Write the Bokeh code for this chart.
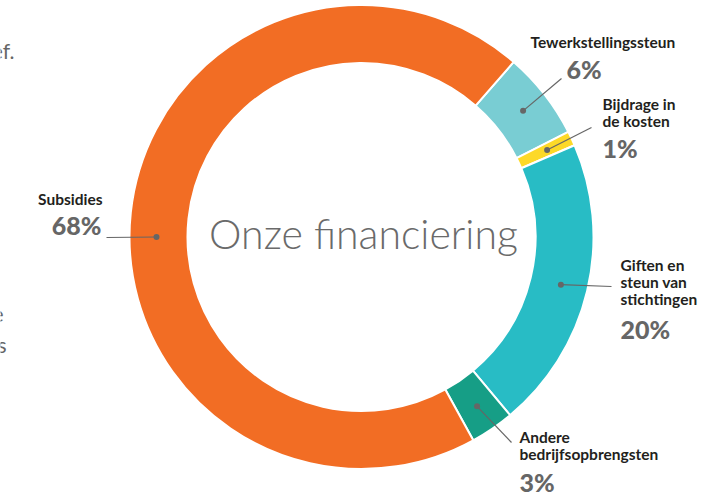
import numpy as np
from bokeh.plotting import figure
from bokeh.models import Range1d, ColumnDataSource
from bokeh.core.properties import value
from bokeh.embed import file_html
from bokeh.resources import INLINE

# ---------------- data ----------------
categories = ["Tewerkstellingssteun", "Bijdrage in\nde kosten",
              "Giften en\nsteun van\nstichtingen", "Andere\nbedrijfsopbrengsten",
              "Subsidies"]
values = [6, 1, 20, 3, 68]
pct_labels = ["6%", "1%", "20%", "3%", "68%"]
colors = ["#79CDD3", "#FDD928", "#28BCC5", "#169E86", "#F26D24"]
title_text = "Onze financiering"

# ---------------- layout ----------------
W, H = 724, 494
CX, CY = 361, H - 236.5
R_OUT, R_IN = 232, 174
R_DOT = 205
START_CW = 41.0  # degrees clockwise from 12 o'clock

# label layout in pixel coordinates
label_layout = [
    dict(x=530, y=48, align="left", px=566, py=78, lx=561, ly=78, dot=None),
    dict(x=602, y=110, align="left", px=602, py=157, lx=591, ly=127, dot=None),
    dict(x=620, y=271, align="left", px=620, py=338, lx=611, ly=286, dot=None),
    dict(x=519, y=443, align="left", px=519, py=491, lx=511, ly=442, dot=None),
    dict(x=102, y=205, align="right", px=101, py=234, lx=106, ly=237, dot=270.0),
]
LINE_STEP = 17
LAB_FS, PCT_FS, TITLE_FS = 15.5, 25, 41
# correction between requested and rendered baseline (px, per font size)
BASE_K = 0.4


def ty(y_pix, fs):
    return H - y_pix + BASE_K * fs


vals = np.array(values, dtype=float)
frac = vals / vals.sum()
end_cw = START_CW + np.cumsum(frac) * 360.0
start_cw = end_cw - frac * 360.0
mid_cw = (start_cw + end_cw) / 2.0

src = ColumnDataSource(dict(
    x=[CX] * len(vals), y=[CY] * len(vals),
    start=np.deg2rad(90.0 - start_cw), end=np.deg2rad(90.0 - end_cw),
    color=colors,
))

p = figure(width=W, height=H, output_backend="svg", toolbar_location=None,
           x_range=Range1d(0, W), y_range=Range1d(0, H), min_border=0)
p.axis.visible = False
p.grid.visible = False
p.outline_line_color = None
p.background_fill_color = "white"
p.border_fill_color = "white"

p.annular_wedge(x="x", y="y", inner_radius=R_IN, outer_radius=R_OUT,
                start_angle="start", end_angle="end", direction="clock",
                fill_color="color", line_color="white", line_width=2, source=src)

# centre title
p.text(x=[CX + 2], y=[ty(248, TITLE_FS) - 1], text=[title_text], text_align="center",
       text_baseline="alphabetic", text_font=value("Lato Light"),
       text_font_size=f"{TITLE_FS}px", text_color="#6a6a6a")

# labels
lab_x, lab_y, lab_t, lab_a = [], [], [], []
pct_x, pct_y, pct_t, pct_a = [], [], [], []
seg_x0, seg_y0, seg_x1, seg_y1 = [], [], [], []
dot_x, dot_y = [], []
for cat, pct, m, lay in zip(categories, pct_labels, mid_cw, label_layout):
    for i, line in enumerate(cat.split("\n")):
        lab_x.append(lay["x"]); lab_y.append(ty(lay["y"] + i * LINE_STEP, LAB_FS))
        lab_t.append(line); lab_a.append(lay["align"])
    pct_x.append(lay["px"]); pct_y.append(ty(lay["py"], PCT_FS)); pct_t.append(pct)
    pct_a.append(lay["align"])
    ang = lay["dot"] if lay["dot"] is not None else m
    dx = CX + R_DOT * np.sin(np.deg2rad(ang))
    dy = CY + R_DOT * np.cos(np.deg2rad(ang))
    dot_x.append(dx); dot_y.append(dy)
    seg_x0.append(dx); seg_y0.append(dy)
    seg_x1.append(lay["lx"]); seg_y1.append(H - lay["ly"])

p.segment(x0=seg_x0, y0=seg_y0, x1=seg_x1, y1=seg_y1, line_color="#666666", line_width=1.2)
p.scatter(x=dot_x, y=dot_y, size=6, fill_color="#666666", line_color=None)

p.text(x=lab_x, y=lab_y, text=lab_t, text_align=lab_a, text_baseline="alphabetic",
       text_font=value("Lato"), text_font_style="bold", text_font_size=f"{LAB_FS}px",
       text_color="#231F20")
p.text(x=pct_x, y=pct_y, text=pct_t, text_align=pct_a, text_baseline="alphabetic",
       text_font=value("Lato Black"), text_font_style="bold", text_font_size=f"{PCT_FS}px",
       text_color="#666666")

# cropped fragments of neighbouring page text at the left edge
p.text(x=[14, 3, 6], y=[ty(58, 21), ty(322, 21), ty(352, 21)], text=["ef.", "e", "s"],
       text_align="right", text_baseline="alphabetic", text_font=value("Lato"),
       text_font_size="21px", text_color="#666666")

open("out.html", "w").write(file_html(p, INLINE))
